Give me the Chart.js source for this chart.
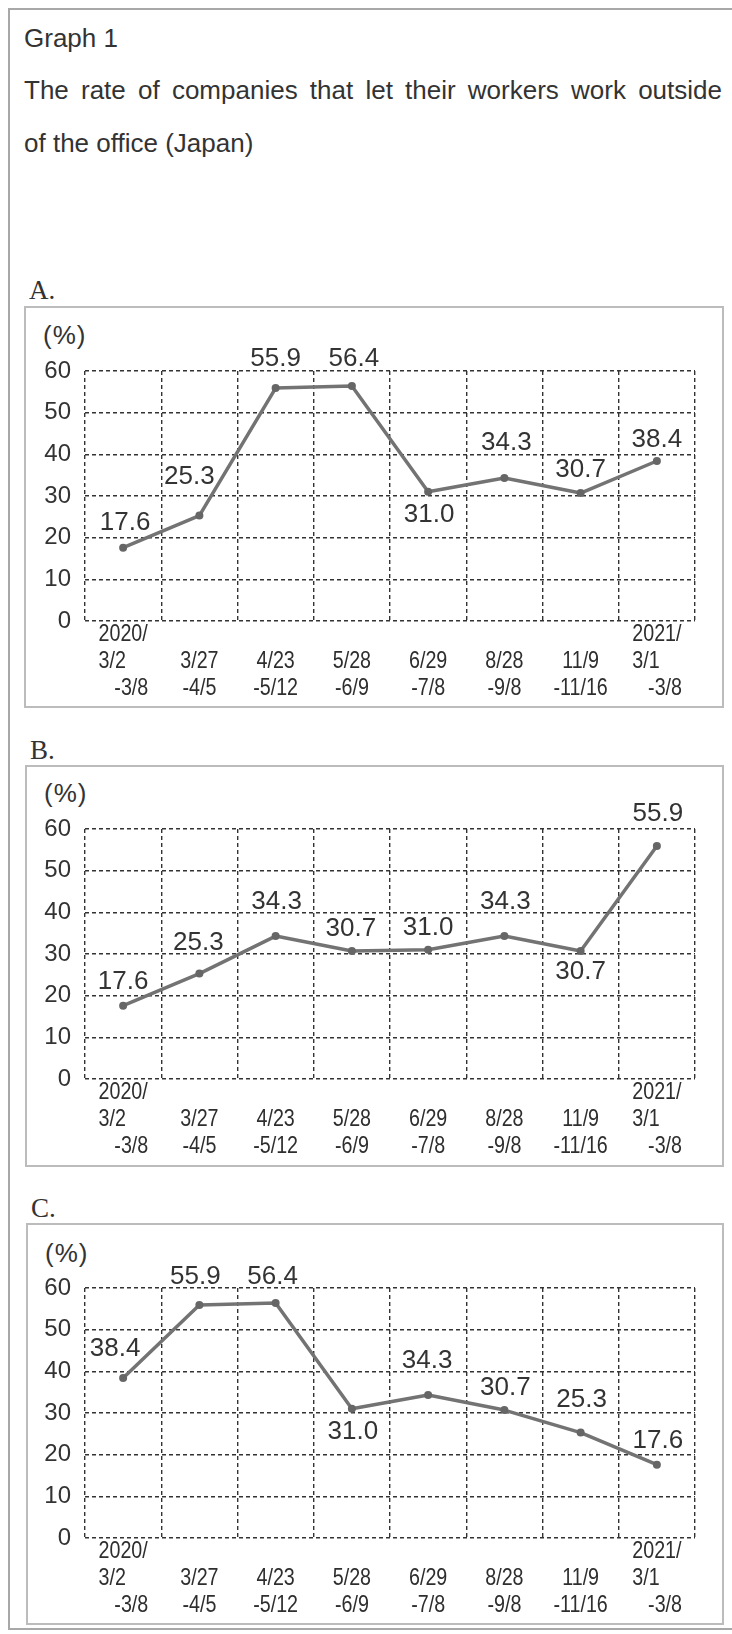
<!DOCTYPE html>
<html>
<head>
<meta charset="utf-8">
<script src="https://cdn.jsdelivr.net/npm/chart.js@4"></script>
<style>
    body { margin: 0; background: #fff; width: 732px; height: 1634px; position: relative; overflow: hidden; font-family: "Liberation Sans", Arial, sans-serif; color: #333; }
    #frame { position: absolute; left: 8px; top: 8px; width: 760px; height: 1622px; border: 2px solid #a8a8a8; box-sizing: border-box; }
    .txt { position: absolute; font-size: 26px; line-height: 30px; white-space: nowrap; }
    .letter { position: absolute; font-family: "Liberation Serif", "Times New Roman", serif; font-size: 27px; line-height: 30px; }
    .pct { position: absolute; font-size: 26px; line-height: 30px; letter-spacing: 1px; }
    .box { position: absolute; border: 2px solid #bcbcbc; box-sizing: border-box; }
    canvas { position: absolute; left: 0; }
</style>
</head>
<body>
<div id="frame"></div>
<div class="txt" style="left:24px; top:23px;">Graph 1</div>
<div class="txt" style="left:24px; top:75px; width:698px; white-space:normal; text-align:justify; text-align-last:justify;">The rate of companies that let their workers work outside</div>
<div class="txt" style="left:24px; top:128px;">of the office (Japan)</div>

<div class="letter" style="left:29px; top:275px;">A.</div>
<div class="box" style="left:24px; top:306px; width:700px; height:402px;"></div>
<div class="pct" style="left:43px; top:320px;">(%)</div>
<canvas id="chartA" width="732" height="402" style="top:307px;"></canvas>

<div class="letter" style="left:30px; top:735px;">B.</div>
<div class="box" style="left:25px; top:765px; width:699px; height:402px;"></div>
<div class="pct" style="left:44px; top:778px;">(%)</div>
<canvas id="chartB" width="732" height="402" style="top:765px;"></canvas>

<div class="letter" style="left:31px; top:1193px;">C.</div>
<div class="box" style="left:26px; top:1223px; width:698px; height:402px;"></div>
<div class="pct" style="left:45px; top:1238px;">(%)</div>
<canvas id="chartC" width="732" height="402" style="top:1224px;"></canvas>

<script>
// survey periods (tick labels, one array per label, padded so the lines line up)
const periods = [
    ["2020/", "3/2    ", "   -3/8"],
    ["", "3/27", "-4/5"],
    ["", "4/23", "-5/12"],
    ["", "5/28", "-6/9"],
    ["", "6/29", "-7/8"],
    ["", "8/28", "-9/8"],
    ["", "11/9", "-11/16"],
    ["2021/", "3/1    ", "   -3/8"]
];

// rate (%) for each graph
const valuesA = [17.6, 25.3, 55.9, 56.4, 31.0, 34.3, 30.7, 38.4];
const valuesB = [17.6, 25.3, 34.3, 30.7, 31.0, 34.3, 30.7, 55.9];
const valuesC = [38.4, 55.9, 56.4, 31.0, 34.3, 30.7, 25.3, 17.6];

const yMin = 0;
const yMax = 60;
const yStep = 10;

// where each value label sits relative to its point (dx, dy in px)
const offsetsA = [[2, -25], [-10, -39], [0, -29], [2, -27], [1, 23], [2, -35], [0, -23], [0, -21]];
const offsetsB = [[0, -24], [-1, -31], [1, -34], [-1, -22], [0, -22], [1, -34], [0, 21], [1, -32]];
const offsetsC = [[-8, -29], [-4, -28], [-3, -26], [1, 23], [-1, -34], [1, -22], [1, -33], [1, -24]];

const lineColor = "#737373";
const gridColor = "#333";
const narrow = 0.82; // the period labels are printed in a condensed face

// draws the numbers next to the points
const valueLabels = {
    id: "valueLabels",
    afterDatasetsDraw(chart, args, opts) {
        const ctx = chart.ctx;
        const meta = chart.getDatasetMeta(0);
        const values = chart.data.datasets[0].data;
        ctx.save();
        ctx.font = "26px 'Liberation Sans', Arial, sans-serif";
        ctx.fillStyle = "#333";
        ctx.textAlign = "center";
        ctx.textBaseline = "middle";
        meta.data.forEach((pt, i) => {
            const off = opts.offsets[i];
            ctx.fillText(values[i].toFixed(1), pt.x + off[0], pt.y + off[1]);
        });
        ctx.restore();
    }
};

// period labels under the x axis, squeezed sideways like the original
const periodTicks = {
    id: "periodTicks",
    afterDraw(chart) {
        const scale = chart.scales.x;
        const ctx = chart.ctx;
        ctx.save();
        ctx.font = "24px 'Liberation Sans', Arial, sans-serif";
        ctx.fillStyle = "#2e2e2e";
        ctx.textAlign = "center";
        ctx.textBaseline = "middle";
        ctx.scale(narrow, 1);
        chart.data.labels.forEach((lines, i) => {
            const x = scale.getPixelForTick(i) / narrow;
            lines.forEach((line, k) => {
                ctx.fillText(line, x, scale.top + 13 + k * 27);
            });
        });
        ctx.restore();
    }
};

function makeChart(id, values, offsets) {
    return new Chart(document.getElementById(id), {
        type: "line",
        data: {
            labels: periods,
            datasets: [{
                data: values,
                borderColor: lineColor,
                borderWidth: 3.5,
                pointRadius: 4,
                pointBackgroundColor: "#666",
                pointBorderWidth: 0,
                borderJoinStyle: "round",
                tension: 0
            }]
        },
        options: {
            responsive: false,
            animation: false,
            layout: { padding: { left: 0, right: 37, top: 64, bottom: 0 } },
            plugins: {
                legend: { display: false },
                tooltip: { enabled: false },
                valueLabels: { offsets: offsets }
            },
            scales: {
                x: {
                    offset: true,
                    // grid dash comes from border.dash in v4
                    grid: { offset: true, color: gridColor, lineWidth: 1.4, drawTicks: false },
                    border: { display: false, dash: [4, 3] },
                    ticks: { display: false, autoSkip: false },
                    afterFit: (scale) => { scale.height = 88; }
                },
                y: {
                    min: yMin,
                    max: yMax,
                    grid: { color: gridColor, lineWidth: 1.4, drawTicks: false },
                    border: { display: false, dash: [4, 3] },
                    ticks: {
                        stepSize: yStep,
                        color: "#333",
                        padding: 14,
                        font: { family: "'Liberation Sans', Arial, sans-serif", size: 24 }
                    },
                    afterFit: (scale) => { scale.width = 85; }
                }
            }
        },
        plugins: [valueLabels, periodTicks]
    });
}

const charts = [
    makeChart("chartA", valuesA, offsetsA),
    makeChart("chartB", valuesB, offsetsB),
    makeChart("chartC", valuesC, offsetsC)
];
</script>
</body>
</html>
